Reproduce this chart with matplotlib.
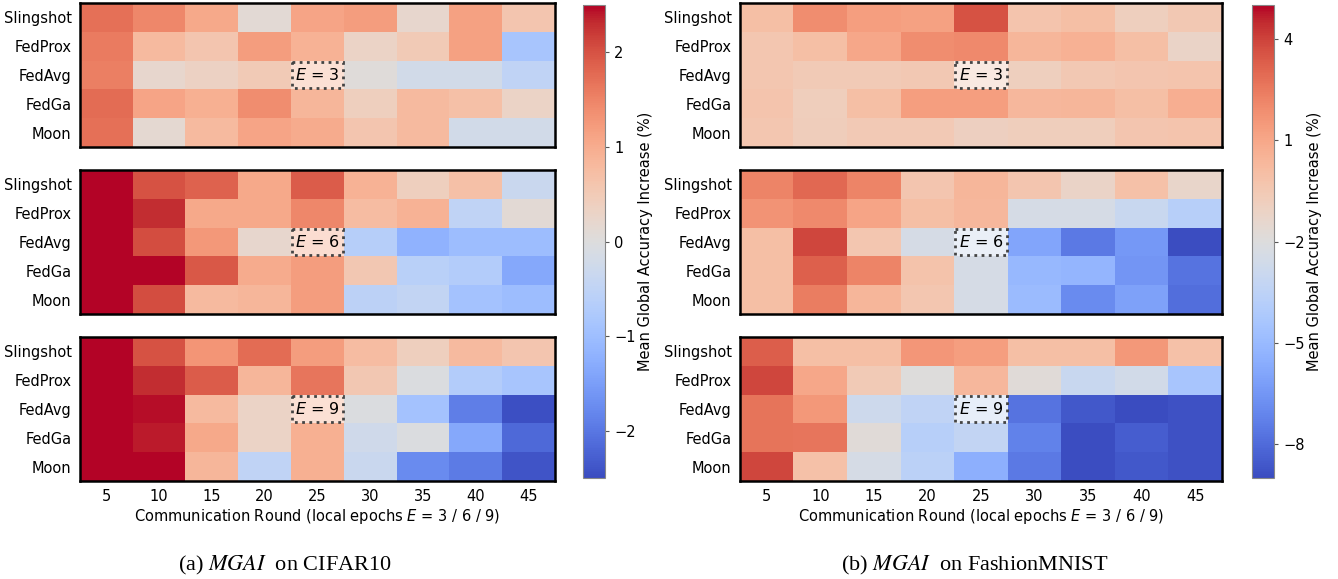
import numpy as np
import matplotlib
matplotlib.use("Agg")
import matplotlib.pyplot as plt
from matplotlib.patches import Rectangle

methods = ["Slingshot", "FedProx", "FedAvg", "FedGa", "Moon"]
rounds = [5, 10, 15, 20, 25, 30, 35, 40, 45]
epochs = [3, 6, 9]

# CIFAR10, one 5x9 block per local-epoch setting
cifar_e3 = [[1.7, 1.45, 1.05, 0.1, 1.1, 1.2, 0.2, 1.15, 0.6],
            [1.6, 0.8, 0.6, 1.2, 0.9, 0.3, 0.5, 1.15, -0.85],
            [1.55, 0.2, 0.35, 0.5, 0.9, 0.05, -0.2, -0.2, -0.5],
            [1.75, 1.1, 0.95, 1.4, 0.85, 0.4, 0.8, 0.7, 0.3],
            [1.7, 0.15, 0.8, 1.1, 1.0, 0.6, 0.8, -0.2, -0.2]]
cifar_e6 = [[3.4, 2.0, 1.85, 1.05, 1.9, 0.9, 0.4, 0.7, -0.35],
            [3.6, 2.3, 1.05, 1.05, 1.45, 0.75, 0.9, -0.5, 0.1],
            [3.3, 2.05, 1.25, 0.2, 1.0, -0.65, -1.2, -1.0, -1.0],
            [3.5, 2.6, 1.95, 1.0, 1.2, 0.55, -0.6, -0.7, -1.35],
            [3.2, 2.05, 0.8, 0.85, 1.2, -0.55, -0.45, -0.9, -1.0]]
cifar_e9 = [[3.1, 2.0, 1.3, 1.75, 1.2, 0.75, 0.4, 0.8, 0.6],
            [3.3, 2.3, 1.9, 0.85, 1.65, 0.55, -0.05, -0.7, -0.85],
            [3.4, 2.45, 0.8, 0.3, 0.9, -0.05, -0.9, -1.9, -2.45],
            [3.2, 2.4, 1.05, 0.3, 0.95, -0.25, -0.05, -1.35, -2.15],
            [3.5, 2.6, 0.85, -0.5, 0.95, -0.35, -1.75, -1.95, -2.4]]

# FashionMNIST
fmnist_e3 = [[0.0, 1.9, 1.3, 1.2, 3.6, -0.3, 0.0, -0.9, -0.5],
             [-0.4, 0.0, 1.0, 1.9, 2.0, 0.4, 0.6, 0.0, -1.2],
             [-0.4, -0.6, -0.6, -0.5, -0.6, -0.9, -0.5, -0.35, -0.3],
             [-0.3, -0.8, 0.0, 1.3, 1.3, 0.3, 0.4, 0.0, 0.7],
             [-0.4, -0.75, -0.55, -0.55, -0.95, -0.85, -0.8, -0.35, -0.3]]
fmnist_e6 = [[2.2, 3.0, 2.2, -0.35, 0.4, -0.35, -1.2, -0.1, -1.3],
             [1.7, 2.0, 1.1, 0.0, 0.3, -2.4, -2.4, -3.0, -3.8],
             [0.0, 3.9, -0.4, -2.4, -2.8, -5.9, -7.5, -6.4, -8.9],
             [0.0, 3.2, 2.2, -0.2, -2.4, -5.1, -5.2, -6.5, -7.7],
             [0.0, 2.4, 0.4, -0.4, -2.4, -4.9, -6.9, -6.1, -7.9]]
fmnist_e9 = [[3.3, 0.0, 0.0, 1.6, 1.3, 0.0, 0.0, 1.5, -0.1],
             [3.9, 1.0, -0.6, -2.0, 0.3, -1.8, -3.0, -2.6, -4.4],
             [2.7, 1.5, -2.8, -3.4, -3.2, -7.7, -8.6, -8.95, -8.8],
             [2.7, 2.6, -1.8, -3.8, -3.3, -7.2, -8.9, -8.4, -8.8],
             [3.9, -0.1, -2.4, -3.6, -5.5, -7.5, -8.9, -8.6, -8.8]]

panels = [
    dict(blocks=[cifar_e3, cifar_e6, cifar_e9], vmin=-2.5, vmax=2.5,
         ticks=[-2, -1, 0, 1, 2], x0=80, w=475, cbx=583,
         caption="(a) $\\mathit{MGAI}$  on CIFAR10", capx=285),
    dict(blocks=[fmnist_e3, fmnist_e6, fmnist_e9], vmin=-9, vmax=5,
         ticks=[-8, -5, -2, 1, 4], x0=740, w=482, cbx=1252,
         caption="(b) $\\mathit{MGAI}$  on FashionMNIST", capx=975),
]

W, H = 1338, 579
fig = plt.figure(figsize=(W / 100, H / 100), dpi=100)


def rect(x, y, w, h):
    return [x / W, 1 - (y + h) / H, w / W, h / H]


tops = [3, 170, 337]
hh = 144
for p in panels:
    for k, (blk, top) in enumerate(zip(p["blocks"], tops)):
        ax = fig.add_axes(rect(p["x0"], top, p["w"], hh))
        im = ax.imshow(np.array(blk), cmap="coolwarm", vmin=p["vmin"],
                       vmax=p["vmax"], aspect="auto")
        ax.set_yticks(range(len(methods)))
        ax.set_yticklabels(methods, fontsize=10.5)
        ax.tick_params(length=0, pad=6)
        if k == 2:
            ax.set_xticks(range(len(rounds)))
            ax.set_xticklabels(rounds, fontsize=10.5)
            ax.set_xlabel("Communication Round (local epochs $E$ = 3 / 6 / 9)",
                          fontsize=10.5, labelpad=2)
        else:
            ax.set_xticks([])
        for s in ax.spines.values():
            s.set_linewidth(1.8)
        ax.add_patch(Rectangle((3.5, 1.5), 1, 1, facecolor="white", alpha=0.6,
                               edgecolor="none", zorder=3))
        ax.add_patch(Rectangle((3.52, 1.54), 0.96, 0.92, facecolor="none",
                               edgecolor="#444444", lw=2, ls=(0, (1, 1.6)),
                               zorder=4))
        ax.text(4, 2, f"$E$ = {epochs[k]}", ha="center", va="center",
                fontsize=11.5, zorder=5)
    cax = fig.add_axes(rect(p["cbx"], 5, 22, 473))
    cb = fig.colorbar(im, cax=cax, ticks=p["ticks"])
    cb.outline.set_edgecolor("#888888")
    cb.ax.tick_params(labelsize=10.5, length=3, color="#555555")
    cb.set_label("Mean Global Accuracy Increase (%)", fontsize=10.5, labelpad=2)
    fig.text(p["capx"] / W, 1 - 565 / H, p["caption"], ha="center",
             va="center", fontsize=16, family="Liberation Serif",
             math_fontfamily="stix")

fig.savefig("out.png", dpi=100)
